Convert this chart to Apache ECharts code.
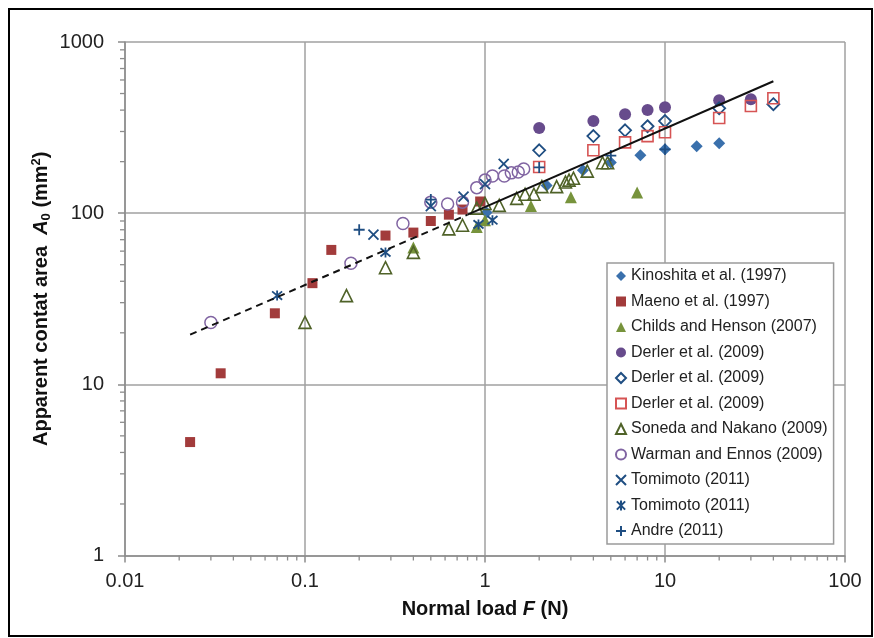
<!DOCTYPE html>
<html><head><meta charset="utf-8">
<script src="https://cdn.jsdelivr.net/npm/echarts@6/dist/echarts.min.js"></script>
<style>html,body{margin:0;padding:0;background:#fff}#c{width:874px;height:638px}</style>
</head><body><div id="c"></div>
<script>
// ---- data (Normal load F [N], Apparent contact area A0 [mm2]) ----
const kinoshita = [[1.02,101],[2.2,145],[3.5,178],[5,198],[7.3,218],[10,236],[15,246],[20,256]];
const maeno = [[0.023,4.6],[0.034,11.6],[0.068,26],[0.11,39],[0.14,61],[0.28,74],[0.4,77],[0.5,90],[0.63,98],[0.75,105],[0.94,117]];
const childs = [[0.4,63],[0.9,83],[1.0,91],[1.8,110],[3.0,124],[7,132]];
const derlerCircle = [[2,314],[4,345],[6,378],[8,400],[10,416],[20,457],[30,463]];
const derlerDiamond = [[2,233],[4,282],[6,305],[8,322],[10,345],[20,410],[40,433]];
const derlerSquare = [[2,186],[4,233],[6,259],[8,282],[10,297],[20,360],[30,423],[40,469]];
const soneda = [[0.1,23],[0.17,33],[0.28,48],[0.4,59],[0.63,81],[0.75,85],[0.9,107],[1.0,114],[1.2,111],[1.5,122],[1.67,129],[1.87,129],[2.07,143],[2.5,143],[2.8,152],[2.93,156],[3.1,160],[3.7,176],[4.5,197],[4.8,197]];
const warman = [[0.03,23],[0.18,51],[0.35,87],[0.5,116],[0.62,113],[0.75,116],[0.9,141],[1.0,156],[1.1,165],[1.28,165],[1.4,172],[1.53,174],[1.64,181]];
const tomimotoX = [[0.24,75],[0.5,110],[0.76,125],[1.0,148],[1.27,194]];
const tomimotoStar = [[0.07,33],[0.28,59],[0.92,86],[1.1,91]];
const andre = [[0.2,80],[0.5,120],[2,185],[5,217],[10,236]];
const fitDashed = [[0.023,19.5],[0.8,98]];
const fitSolid = [[0.8,98],[40,590]];

const seriesNames = ['Kinoshita et al. (1997)','Maeno et al. (1997)','Childs and Henson (2007)','Derler et al. (2009)','Derler et al. (2009) ','Derler et al. (2009)  ','Soneda and Nakano (2009)','Warman and Ennos (2009)','Tomimoto (2011)','Tomimoto (2011) ','Andre (2011)'];
const xTickLabels = {0.01:'0.01', 0.1:'0.1', 1:'1', 10:'10', 100:'100'};
const yTickLabels = {1:'1', 10:'10', 100:'100', 1000:'1000'};
const xMin = 0.01, xMax = 100, yMin = 1, yMax = 1000;
const xMinorBases = [0.01,0.1,1,10];
const yMinorBases = [1,10,100];
const minorMultipliers = [2,3,4,5,6,7,8,9];

const xMinor = [], yMinor = [];
xMinorBases.forEach(b => minorMultipliers.forEach(m => xMinor.push(+(b*m).toPrecision(3))));
yMinorBases.forEach(b => minorMultipliers.forEach(m => yMinor.push(+(b*m).toPrecision(3))));

const FONT = '"Liberation Sans", Arial, sans-serif';
const navy = '#1F4E82';

function scatter(name, data, symbol, size, fill, stroke, bw) {
  return {
    type:'scatter', name, data, symbol, symbolSize:size, z:3,
    itemStyle:{color:fill, borderColor:stroke||fill, borderWidth:bw||0, opacity:1},
    emphasis:{disabled:true}
  };
}
const pX = 'path://M0,0L10,10M10,0L0,10';
const pStar = 'path://M0,0L10,10M10,0L0,10M5,-1L5,11';
const pPlus = 'path://M5,0L5,10M0,5L10,5';

function fmt(map) {
  return v => { const k = +(+v).toPrecision(3); return map[k] !== undefined ? map[k] : String(k); };
}

const chart = echarts.init(document.getElementById('c'), null, {renderer:'canvas'});
chart.setOption({
  animation:false,
  backgroundColor:'#fff',
  grid:{left:125, top:42, width:720, height:513.5, containLabel:false},
  xAxis:{
    type:'log', logBase:10, min:xMin, max:xMax,
    name:'{b|Normal load }{bi|F}{b| (N)}',
    nameLocation:'middle', nameGap:44, nameMoveOverlap:false,
    nameTextStyle:{rich:{
      b:{fontFamily:FONT, fontWeight:'bold', fontSize:20, color:'#111'},
      bi:{fontFamily:FONT, fontWeight:'bold', fontStyle:'italic', fontSize:20, color:'#111'}
    }},
    axisLine:{show:true, lineStyle:{color:'#8c8c8c', width:1.5}},
    axisTick:{show:true, length:7, lineStyle:{color:'#8c8c8c', width:1.5}},
    axisLabel:{fontFamily:FONT, fontSize:20, color:'#222', margin:16, formatter:fmt(xTickLabels)},
    splitLine:{show:true, lineStyle:{color:'#a0a0a0', width:1.5}}
  },
  yAxis:{
    type:'log', logBase:10, min:yMin, max:yMax,
    name:'{b|Apparent contat area  }{bi|A}{sub|0}{b| (mm}{sup|2}{b|)}',
    nameLocation:'middle', nameRotate:90, nameGap:71, nameMoveOverlap:false,
    nameTextStyle:{rich:{
      b:{fontFamily:FONT, fontWeight:'bold', fontSize:20, color:'#111', lineHeight:26, verticalAlign:'middle'},
      bi:{fontFamily:FONT, fontWeight:'bold', fontStyle:'italic', fontSize:20, color:'#111', lineHeight:26},
      sub:{fontFamily:FONT, fontWeight:'bold', fontSize:13, color:'#111', lineHeight:26, verticalAlign:'bottom', padding:[0,0,1,0]},
      sup:{fontFamily:FONT, fontWeight:'bold', fontSize:13, color:'#111', lineHeight:26, verticalAlign:'top', padding:[2,0,0,0]}
    }},
    axisLine:{show:true, lineStyle:{color:'#8c8c8c', width:1.5}},
    axisTick:{show:true, length:7, lineStyle:{color:'#8c8c8c', width:1.5}},
    axisLabel:{fontFamily:FONT, fontSize:20, color:'#222', margin:21, formatter:fmt(yTickLabels)},
    splitLine:{show:true, lineStyle:{color:'#a0a0a0', width:1.5}}
  },
  legend:{
    data:seriesNames, orient:'vertical', left:607, top:263,
    padding:[5,6,5,8], itemGap:9.5, itemWidth:10, itemHeight:10,
    backgroundColor:'#fff', borderColor:'#9a9a9a', borderWidth:1.5, borderRadius:0,
    selectedMode:false, z:10,
    textStyle:{fontFamily:FONT, fontSize:16, color:'#222', lineHeight:16}
  },
  graphic:[{type:'rect', shape:{x:9, y:9, width:863, height:627}, style:{fill:null, stroke:'#000', lineWidth:2}, z:100, silent:true}],
  series:[
    scatter(seriesNames[0], kinoshita, 'diamond', 12, '#3A70AC'),
    scatter(seriesNames[1], maeno, 'rect', 10, '#A23B3B'),
    scatter(seriesNames[2], childs, 'triangle', 12, '#77933C'),
    scatter(seriesNames[3], derlerCircle, 'circle', 12, '#674B8C'),
    scatter(seriesNames[4], derlerDiamond, 'diamond', 12, 'rgba(0,0,0,0)', navy, 1.8),
    scatter(seriesNames[5], derlerSquare, 'rect', 11, 'rgba(0,0,0,0)', '#D65454', 1.6),
    scatter(seriesNames[6], soneda, 'triangle', 12, 'rgba(0,0,0,0)', '#4F6228', 1.6),
    scatter(seriesNames[7], warman, 'circle', 12, 'rgba(0,0,0,0)', '#8064A2', 1.5),
    scatter(seriesNames[8], tomimotoX, pX, 10, 'rgba(0,0,0,0)', navy, 1.8),
    scatter(seriesNames[9], tomimotoStar, pStar, 10, 'rgba(0,0,0,0)', navy, 1.8),
    scatter(seriesNames[10], andre, pPlus, 11, 'rgba(0,0,0,0)', navy, 1.8),
    {type:'line', name:'fitDashed', data:fitDashed, showSymbol:false, symbol:'none', z:4,
     lineStyle:{color:'#111', width:2, type:[7,5]}, emphasis:{disabled:true}},
    {type:'line', name:'fitSolid', data:fitSolid, showSymbol:false, symbol:'none', z:4,
     lineStyle:{color:'#111', width:2}, emphasis:{disabled:true}},
    {type:'custom', name:'xMinorTicks', clip:false, silent:true, z:2,
     data:xMinor.map(v => [v, yMin]),
     renderItem:(params, api) => {
       const p = api.coord([api.value(0), yMin]);
       return {type:'line', shape:{x1:p[0], y1:p[1], x2:p[0], y2:p[1]+5}, style:{stroke:'#8c8c8c', lineWidth:1.3}};
     }},
    {type:'custom', name:'yMinorTicks', clip:false, silent:true, z:2,
     data:yMinor.map(v => [xMin, v]),
     renderItem:(params, api) => {
       const p = api.coord([xMin, api.value(1)]);
       return {type:'line', shape:{x1:p[0]-5, y1:p[1], x2:p[0], y2:p[1]}, style:{stroke:'#8c8c8c', lineWidth:1.3}};
     }}
  ]
});
</script></body></html>
